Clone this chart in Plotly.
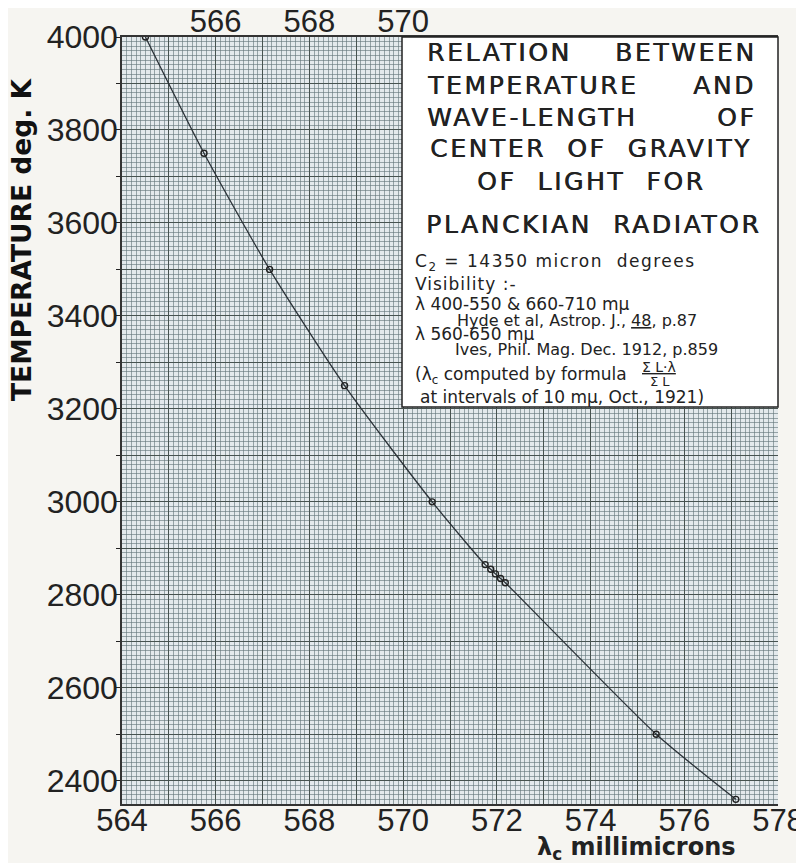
import plotly.graph_objects as go

# ---- data ----
wavelength = [564.5, 565.75, 567.15, 568.75, 570.62, 571.75, 571.87, 571.97, 572.08, 572.18, 575.4, 577.1]
temperature = [4000, 3750, 3500, 3250, 3000, 2865, 2855, 2845, 2835, 2826, 2500, 2360]

x_ticks = list(range(564, 579))
x_labels = [str(v) if v % 2 == 0 else "" for v in x_ticks]
top_ticks = [566, 568, 570]
y_ticks = list(range(2400, 4001, 100))
y_labels = [str(v) if v % 200 == 0 else "" for v in y_ticks]

# page offset (browser body margin) and plot-area geometry in screenshot pixels
OFF = 8
L, R, T, B = 122, 778, 37, 804
W, H = 804 - OFF, 863 - OFF


def px(x):
    return (x - L) / (R - L)


def py(y):
    return (B - y) / (B - T)


FONT = "DejaVu Sans"
TICKFONT = "Liberation Sans"
INK = "#222222"

fig = go.Figure()
fig.add_trace(go.Scatter(
    x=wavelength, y=temperature, mode="lines",
    line=dict(color="#2b3238", width=1.3, shape="spline", smoothing=0.6),
    hoverinfo="skip", showlegend=False))
fig.add_trace(go.Scatter(
    x=wavelength, y=temperature, mode="markers",
    marker=dict(symbol="circle-open", size=6, color="#222", line=dict(width=1.4)),
    showlegend=False))
# invisible trace for top axis
fig.add_trace(go.Scatter(x=[564, 578], y=[4000, 4000], xaxis="x2", mode="markers",
                         marker=dict(opacity=0), hoverinfo="skip", showlegend=False))

grid_major = "#46524f"
grid_minor = "rgba(100,118,122,0.62)"

fig.update_layout(
    width=W, height=H,
    margin=dict(l=L - OFF, r=W - (R - OFF), t=T - OFF, b=H - (B - OFF), autoexpand=False),
    paper_bgcolor="#f6f5f1",
    plot_bgcolor="#e3e9ec",
    xaxis=dict(
        range=[564, 578], tickvals=x_ticks, ticktext=x_labels, automargin=False,
        showgrid=True, gridcolor=grid_major, gridwidth=1.3,
        minor=dict(dtick=0.1, showgrid=True, gridcolor=grid_minor, gridwidth=1),
        ticks="", ticklabelstandoff=-12,
        tickfont=dict(family=TICKFONT, size=31, color=INK),
        showline=True, linecolor="#333", linewidth=1.5, mirror=False,
        zeroline=False,
    ),
    xaxis2=dict(
        range=[564, 578], overlaying="x", side="top", tickvals=top_ticks, automargin=False,
        ticktext=[str(v) for v in top_ticks], showgrid=False, ticks="", ticklabelstandoff=-9,
        tickfont=dict(family=TICKFONT, size=31, color=INK), zeroline=False,
        showline=True, linecolor="#333", linewidth=1.5,
    ),
    yaxis=dict(
        range=[2350, 4000], tickvals=y_ticks, ticktext=y_labels, automargin=False,
        showgrid=True, gridcolor=grid_major, gridwidth=1.3,
        minor=dict(dtick=10, showgrid=True, gridcolor=grid_minor, gridwidth=1),
        ticks="outside", ticklen=4, tickcolor=INK, ticklabelstandoff=-8,
        tickfont=dict(family=TICKFONT, size=32, color=INK),
        showline=True, linecolor="#333", linewidth=1.5,
        zeroline=False,
    ),
)

# white legend box
fig.add_shape(type="rect", xref="paper", yref="paper",
              x0=px(402), x1=px(778), y0=py(407), y1=py(37),
              fillcolor="white", line=dict(color="#222", width=1.5), layer="above")

ann = []


def text(t, x, y, size, xanchor="left", yanchor="middle", family=FONT, bold=False,
         ls=None, shadow=None):
    if ls is not None:
        t = '<span style="letter-spacing:%spx">%s</span>' % (ls, t)
    if bold:
        t = "<b>" + t + "</b>"
    f = dict(family=family, size=size, color=INK)
    if shadow:
        f["shadow"] = shadow
    ann.append(dict(text=t, x=px(x), y=py(y), xref="paper", yref="paper",
                    xanchor=xanchor, yanchor=yanchor, showarrow=False, font=f))


TS = 25
TLS = 2.6
SH = "0.6px 0px 0px #222"
# justified title lines
for left, right, yy in [("RELATION", "BETWEEN", 53), ("TEMPERATURE", "AND", 85),
                        ("WAVE-LENGTH", "OF", 117)]:
    text(left, 425, yy, TS, "left", ls=TLS, shadow=SH)
    text(right, 758, yy, TS, "right", ls=TLS, shadow=SH)
text("CENTER  OF  GRAVITY", 591, 149, TS, "center", ls=TLS, shadow=SH)
text("OF  LIGHT  FOR", 591, 181, TS, "center", ls=TLS, shadow=SH)
text("PLANCKIAN  RADIATOR", 593, 224, TS, "center", ls=TLS, shadow=SH)

SS = 17
text("C<sub>2</sub> = 14350 micron  degrees", 413, 263, SS, ls=1.5)
text("Visibility :-", 413, 284, SS, ls=1)
text("λ 400-550 & 660-710 mμ", 413, 304, SS)
text("Hyde et al, Astrop. J., <u>48</u>, p.87", 455, 320, 16)
text("λ 560-650 mμ", 413, 334, SS)
text("Ives, Phil. Mag. Dec. 1912, p.859", 453, 349, 16)
text("(λ<sub>c</sub> computed by formula", 413, 375, SS)
text("<u>Σ L·λ</u>", 640, 367, 14)
text("Σ L", 648, 381, 13)
text("at intervals of 10 mμ, Oct., 1921)", 418, 397, SS)

# axis titles
text("λ<sub>c</sub> millimicrons", 636, 849, 24, "center", bold=True)
ann.append(dict(text="<b>TEMPERATURE deg. K</b>", x=px(22), y=py(240), xref="paper", yref="paper",
                xanchor="center", yanchor="middle", showarrow=False, textangle=-90,
                font=dict(family=FONT, size=26.5, color="#111")))

fig.update_layout(annotations=ann)
fig.write_html("out.html")
